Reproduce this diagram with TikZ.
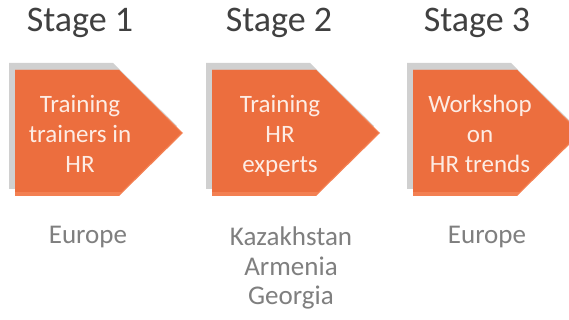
\documentclass[tikz,border=0pt]{standalone}
\usepackage{fontspec}
\setmainfont{Carlito}
\definecolor{orangeA}{RGB}{236,110,62}
\definecolor{orangeB}{RGB}{243,128,82}
\definecolor{shadowgray}{RGB}{208,208,208}
\definecolor{titlegray}{RGB}{64,64,64}
\definecolor{labelgray}{RGB}{127,127,127}
\definecolor{boxtext}{RGB}{253,236,228}
\tikzset{
  titletext/.style={font=\fontsize{36}{43}\selectfont, text=titlegray, anchor=base, inner sep=0pt},
  boxline/.style={font=\fontsize{25}{30}\selectfont, text=boxtext, anchor=base, inner sep=0pt},
  placetext/.style={font=\fontsize{27}{30}\selectfont, text=labelgray, anchor=base, inner sep=0pt},
}
\begin{document}
\begin{tikzpicture}[x=1pt,y=-1pt]
\useasboundingbox (0,0) rectangle (569,320);
\clip (0,0) rectangle (569,320);
\fill[white] (0,0) rectangle (569,320);
% chevrons
\foreach \L in {15,212,413}{
  \fill[shadowgray] (\L-6,63) -- (\L+98,63) -- (\L+162,126) -- (\L+98,189) -- (\L-6,189) -- cycle;
  \fill[orangeB] (\L,70) -- (\L+104,70) -- (\L+168,133) -- (\L+104,196) -- (\L,196) -- cycle;
  \fill[orangeA] (\L,70) -- (\L+104,70) -- (\L+166,133) -- (\L+106,192) -- (\L,192) -- cycle;
}
% titles
\node[titletext] (s1) at (80,32) {Stage 1};
\node[titletext] (s2) at (279,32) {Stage 2};
\node[titletext] (s3) at (477,32) {Stage 3};
% box texts
\node[boxline] (b1a) at (80,113) {Training};
\node[boxline] (b1b) at (80,143) {trainers in};
\node[boxline] (b1c) at (80,173) {HR};
\node[boxline] (b2a) at (280,113) {Training};
\node[boxline] (b2b) at (280,143) {HR};
\node[boxline] (b2c) at (280,173) {experts};
\node[boxline] (b3a) at (480,113) {Workshop};
\node[boxline] (b3b) at (480,143) {on};
\node[boxline] (b3c) at (480,173) {HR trends};
% places
\node[placetext] (p1) at (88,243) {Europe};
\node[placetext] (p2a) at (291,245) {Kazakhstan};
\node[placetext] (p2b) at (291,275) {Armenia};
\node[placetext] (p2c) at (291,304) {Georgia};
\node[placetext] (p3) at (487,243) {Europe};
\end{tikzpicture}
\end{document}
